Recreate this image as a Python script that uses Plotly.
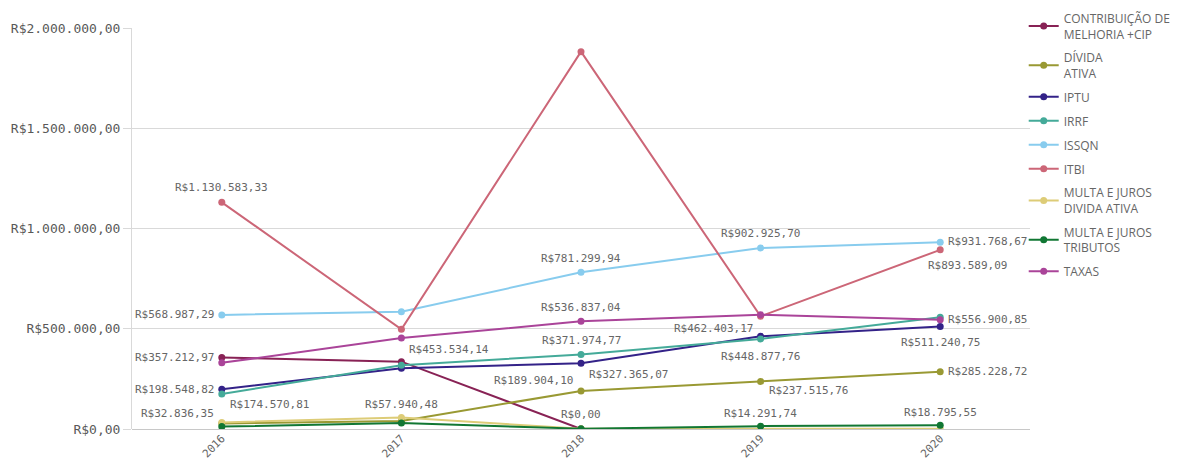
import plotly.graph_objects as go

# ---------------- data ----------------
years = ["2016", "2017", "2018", "2019", "2020"]

contribuicao = [357212.97, 336000.00, 0.00, None, None]
divida_ativa = [28000.00, 40000.00, 189904.10, 237515.76, 285228.72]
iptu = [198548.82, 303000.00, 327365.07, 462403.17, 511240.75]
irrf = [174570.81, 318000.00, 371974.77, 448877.76, 556900.85]
issqn = [568987.29, 585000.00, 781299.94, 902925.70, 931768.67]
itbi = [1130583.33, 497000.00, 1881980.54, 562000.00, 893589.09]
multa_divida = [32836.35, 57940.48, 1000.00, 2500.00, 1500.00]
multa_tributos = [12000.00, 30000.00, 1500.00, 14291.74, 18795.55]
taxas = [330000.00, 453534.14, 536837.04, 570000.00, 545000.00]

series_names = [
    "CONTRIBUIÇÃO DE<br>MELHORIA +CIP",
    "DÍVIDA<br>ATIVA",
    "IPTU",
    "IRRF",
    "ISSQN",
    "ITBI",
    "MULTA E JUROS<br>DIVIDA ATIVA",
    "MULTA E JUROS<br>TRIBUTOS",
    "TAXAS",
]
series_values = [contribuicao, divida_ativa, iptu, irrf, issqn, itbi,
                 multa_divida, multa_tributos, taxas]
series_colors = ["#882255", "#999933", "#332288", "#44AA99", "#88CCEE",
                 "#CC6677", "#DDCC77", "#117733", "#AA4499"]

y_ticks = [0, 500000, 1000000, 1500000, 2000000]

# data labels: (series index, year index, xanchor, xshift, yshift)
label_specs = [
    (5, 0, "center", 0, 15),
    (4, 0, "right", -6, 0),
    (0, 0, "right", -6, 0),
    (2, 0, "right", -6, 0),
    (6, 0, "right", -6, 9),
    (3, 0, "left", 6, -10),
    (6, 1, "center", 0, 13),
    (8, 1, "left", 6, -11),
    (4, 2, "center", 0, 14),
    (8, 2, "center", 0, 14),
    (3, 2, "center", 0, 14),
    (2, 2, "left", 6, -11),
    (1, 2, "right", -6, 10),
    (0, 2, "center", 0, 15),
    (4, 3, "center", 0, 14),
    (2, 3, "right", -6, 8),
    (3, 3, "center", 0, -17),
    (1, 3, "left", 6, -9),
    (7, 3, "center", 0, 13),
    (4, 4, "left", 6, 1),
    (5, 4, "left", -14, -16),
    (3, 4, "left", 6, -2),
    (2, 4, "center", 0, -16),
    (1, 4, "left", 6, 0),
    (7, 4, "center", 0, 13),
]


def brl(v):
    s = f"{v:,.2f}"
    s = s.replace(",", "X").replace(".", ",").replace("X", ".")
    return "R$" + s


MONO = "DejaVu Sans Mono"
GRAY = "#666666"

fig = go.Figure()
for name, vals, col in zip(series_names, series_values, series_colors):
    fig.add_trace(go.Scatter(
        x=list(range(len(years))), y=vals, name=name, mode="lines+markers",
        line=dict(color=col, width=2),
        marker=dict(color=col, size=7),
        connectgaps=False,
        legendgroup=name,
    ))

for si, yi, xa, dx, dy in label_specs:
    v = series_values[si][yi]
    fig.add_annotation(
        x=yi, y=v, xref="x", yref="y", text=brl(v),
        showarrow=False, xanchor=xa, yanchor="middle",
        xshift=dx, yshift=dy,
        font=dict(family=MONO, size=11, color=GRAY),
    )

fig.update_layout(
    width=1179, height=453,
    margin=dict(l=124, r=157, t=20, b=32, autoexpand=False),
    paper_bgcolor="white", plot_bgcolor="white",
    showlegend=True,
    legend=dict(
        x=0.993, xanchor="left", y=1.06, yanchor="top",
        font=dict(family="Open Sans", size=12, color=GRAY),
        tracegroupgap=5, itemwidth=30, maxheight=440,
        bgcolor="rgba(0,0,0,0)",
    ),
)
fig.update_xaxes(
    range=[-0.5, 4.5],
    tickvals=list(range(len(years))), ticktext=years,
    showgrid=False, zeroline=False, showline=False,
    tickangle=-45, ticks="",
    tickfont=dict(family=MONO, size=11, color=GRAY),
)
fig.update_yaxes(
    range=[0, 2000000],
    tickvals=y_ticks, ticktext=[brl(v) for v in y_ticks],
    showgrid=True, gridcolor="#d9d9d9", gridwidth=1,
    zeroline=True, zerolinecolor="#c8c8c8", zerolinewidth=1,
    showline=True, linecolor="#d9d9d9", linewidth=1,
    ticks="outside", ticklen=8, tickcolor="#d9d9d9",
    tickfont=dict(family=MONO, size=13, color="#595959"),
)

fig.write_html("out.html")
